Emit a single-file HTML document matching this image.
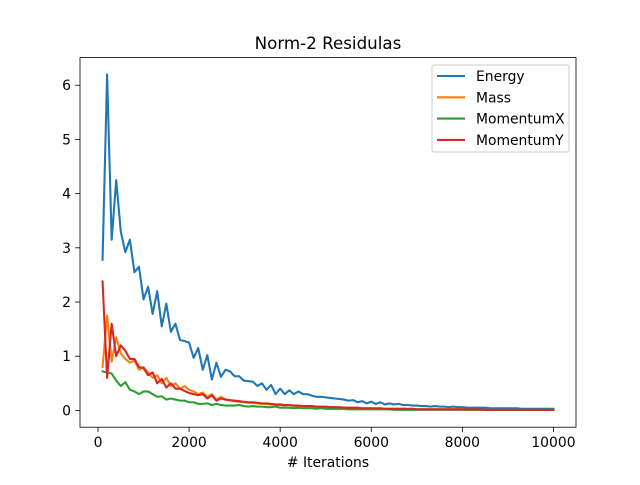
<!DOCTYPE html>
<html><head><meta charset="utf-8"><style>
body{margin:0;background:#fff}
svg text{font-family:"DejaVu Sans","Liberation Sans",sans-serif}
</style></head><body>
<svg id="c" width="640" height="480"></svg>
<script>
const iterations=[];for(let i=1;i<=100;i++)iterations.push(i*100);
const energy=[2.78,6.2,3.15,4.25,3.3,2.92,3.15,2.55,2.65,2.05,2.28,1.78,2.2,1.55,1.97,1.45,1.6,1.3,1.28,1.25,0.97,1.15,0.75,1.02,0.57,0.88,0.62,0.75,0.72,0.63,0.63,0.55,0.54,0.53,0.45,0.5,0.38,0.47,0.3,0.4,0.3,0.37,0.3,0.35,0.3,0.3,0.27,0.25,0.25,0.24,0.23,0.22,0.21,0.2,0.18,0.19,0.15,0.17,0.13,0.16,0.12,0.15,0.11,0.13,0.11,0.12,0.1,0.1,0.09,0.09,0.08,0.08,0.07,0.08,0.07,0.07,0.06,0.07,0.06,0.06,0.05,0.05,0.05,0.05,0.05,0.04,0.04,0.04,0.04,0.04,0.04,0.04,0.03,0.03,0.03,0.03,0.03,0.03,0.03,0.03];
const mass=[0.8,1.75,0.9,1.35,1.05,0.95,0.88,0.92,0.75,0.8,0.7,0.6,0.65,0.5,0.6,0.45,0.5,0.4,0.45,0.38,0.35,0.3,0.33,0.25,0.3,0.2,0.25,0.2,0.18,0.17,0.16,0.15,0.14,0.14,0.13,0.12,0.12,0.11,0.1,0.1,0.09,0.1,0.08,0.08,0.08,0.07,0.07,0.07,0.06,0.06,0.06,0.05,0.05,0.05,0.05,0.04,0.04,0.04,0.04,0.04,0.03,0.03,0.03,0.03,0.03,0.03,0.03,0.02,0.02,0.02,0.02,0.02,0.02,0.02,0.02,0.02,0.02,0.02,0.02,0.02,0.01,0.01,0.01,0.01,0.01,0.01,0.01,0.01,0.01,0.01,0.01,0.01,0.01,0.01,0.01,0.01,0.01,0.01,0.01,0.01];
const momentumX=[0.72,0.7,0.68,0.55,0.45,0.52,0.38,0.35,0.3,0.35,0.35,0.3,0.25,0.26,0.2,0.22,0.2,0.18,0.18,0.15,0.15,0.12,0.12,0.13,0.1,0.12,0.1,0.09,0.09,0.09,0.1,0.08,0.07,0.08,0.07,0.07,0.06,0.06,0.07,0.05,0.05,0.05,0.04,0.05,0.04,0.04,0.04,0.03,0.04,0.03,0.03,0.03,0.03,0.03,0.02,0.02,0.02,0.02,0.02,0.02,0.02,0.02,0.02,0.02,0.01,0.01,0.01,0.01,0.01,0.01,0.01,0.01,0.01,0.01,0.01,0.01,0.01,0.01,0.01,0.01,0.01,0.01,0.01,0.01,0.01,0.01,0.01,0.01,0.01,0.01,0.01,0.01,0.01,0.01,0.01,0.01,0.01,0.01,0.01,0.01];
const momentumY=[2.38,0.6,1.6,1.0,1.2,1.1,0.95,0.95,0.8,0.78,0.65,0.7,0.5,0.58,0.42,0.5,0.4,0.4,0.36,0.32,0.3,0.28,0.3,0.22,0.28,0.18,0.22,0.2,0.19,0.18,0.17,0.16,0.15,0.15,0.14,0.13,0.13,0.12,0.11,0.11,0.1,0.1,0.09,0.09,0.08,0.08,0.08,0.07,0.07,0.07,0.06,0.06,0.06,0.05,0.05,0.05,0.05,0.04,0.04,0.04,0.04,0.04,0.03,0.03,0.03,0.03,0.03,0.03,0.03,0.02,0.02,0.02,0.02,0.02,0.02,0.02,0.02,0.02,0.02,0.02,0.02,0.02,0.02,0.02,0.01,0.01,0.01,0.01,0.01,0.01,0.01,0.01,0.01,0.01,0.01,0.01,0.01,0.01,0.01,0.01];
const xTicks=[0,2000,4000,6000,8000,10000];
const yTicks=[0,1,2,3,4,5,6];
const seriesNames=["Energy","Mass","MomentumX","MomentumY"];
const colors=["#1f77b4","#ff7f0e","#2ca02c","#d62728"];
const L=80,R=576,T=57.6,B=427.2;
const xmin=-395,xmax=10495,ymin=-0.31,ymax=6.51;
const X=v=>L+(v-xmin)/(xmax-xmin)*(R-L);
const Y=v=>B-(v-ymin)/(ymax-ymin)*(B-T);
const svg=document.getElementById('c');const NS='http://www.w3.org/2000/svg';
function mk(t,a,txt){const e=document.createElementNS(NS,t);for(const k in a)e.setAttribute(k,a[k]);if(txt!=null)e.textContent=txt;svg.appendChild(e);return e;}
[energy,mass,momentumX,momentumY].forEach((d,si)=>{
 const p=mk('polyline',{points:d.map((v,i)=>X(iterations[i])+','+Y(v)).join(' '),fill:'none',stroke:colors[si],'stroke-width':2.08,'stroke-linejoin':'round','stroke-linecap':'square'});
 
 
});
const fr=mk('rect',{x:L,y:T,width:R-L,height:B-T,fill:'none',stroke:'#000','stroke-width':0.8});


xTicks.forEach(v=>{mk('line',{x1:X(v),x2:X(v),y1:B,y2:B+4.9,stroke:'#000','stroke-width':0.8});
 const t=mk('text',{x:X(v),y:B+20,'text-anchor':'middle','font-size':13.9},String(v));
 
 });
yTicks.forEach(v=>{mk('line',{x1:L-4.9,x2:L,y1:Y(v),y2:Y(v),stroke:'#000','stroke-width':0.8});
 const t=mk('text',{x:L-9,y:Y(v)+5,'text-anchor':'end','font-size':13.9},String(v));
 
 });
const ti=mk('text',{x:328,y:49,'text-anchor':'middle','font-size':16.7},'Norm-2 Residulas');


const xl=mk('text',{x:328,y:467,'text-anchor':'middle','font-size':13.9},'# Iterations');


const lg=mk('rect',{x:432,y:65,width:137,height:87,fill:'#fff',stroke:'#ccc','stroke-width':1,rx:2});


seriesNames.forEach((n,i)=>{const y=76+i*21.3;
 mk('line',{x1:437,x2:465,y1:y,y2:y,stroke:colors[i],'stroke-width':2.08});
 const t=mk('text',{x:476,y:y+5,'font-size':13.9},n);
 
 });
</script>
</body></html>
